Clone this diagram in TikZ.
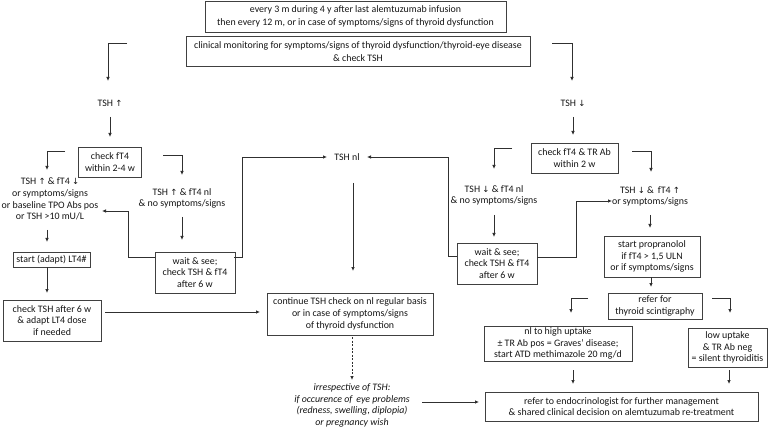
\documentclass[tikz,border=0pt]{standalone}
\usepackage{fontspec}
\setmainfont{Carlito}
\newfontfamily\symfont{DejaVu Sans}
\usetikzlibrary{arrows.meta,calc}
\newcommand\upar{{\symfont\fontsize{8.5}{9}\selectfont ↑}}
\newcommand\dnar{{\symfont\fontsize{8.5}{9}\selectfont ↓}}
\definecolor{ln}{HTML}{303030}
\definecolor{bx}{HTML}{404040}
\definecolor{tx}{HTML}{151515}
\begin{document}
\begin{tikzpicture}[x=1pt,y=-1pt,
  every node/.style={font=\fontsize{9.9}{11.8}\selectfont, text=tx, align=center, inner sep=0pt},
  box/.style={draw=bx, line width=0.8pt, fill=white},
  lbl/.style={},
  arr/.style={draw=ln, line width=0.8pt, -{Latex[length=4pt,width=3.6pt]}},
  dsh/.style={arr, dashed, dash pattern=on 2pt off 1.5pt}]
\useasboundingbox[fill=white] (0,0) rectangle (773,430);

% boxes
\node[box, minimum width=301pt, minimum height=31pt, font=\fontsize{9.9}{13}\selectfont] (top) at (355.5,16.5)
  {every 3 m during 4 y after last alemtuzumab infusion\\then every 12 m, or in case of symptoms/signs of thyroid dysfunction};
\node[box, minimum width=344pt, minimum height=30pt, font=\fontsize{9.9}{13}\selectfont] (clin) at (358,51.5)
  {clinical monitoring for symptoms/signs of thyroid dysfunction/thyroid-eye disease\\\& check TSH};
\node[box, minimum width=63pt, minimum height=30pt] (chk1) at (110,162) {check fT4\\within 2-4 w};
\node[box, minimum width=77pt, minimum height=15pt] (lt4) at (51.5,259.5) {start (adapt) LT4\#};
\node[box, minimum width=98pt, minimum height=41pt] (chk6) at (52,320.5) {check TSH after 6 w\\\& adapt LT4 dose\\if needed};
\node[box, minimum width=80pt, minimum height=41pt] (wsL) at (195,272.5) {wait \& see;\\check TSH \& fT4\\after 6 w};
\node[box, minimum width=166pt, minimum height=42pt] (cont) at (350,314) {continue TSH check on nl regular basis\\or in case of symptoms/signs\\of thyroid dysfunction};
\node[box, minimum width=87pt, minimum height=30pt] (chk2) at (574.5,158) {check fT4 \& TR Ab\\within 2 w};
\node[box, minimum width=80pt, minimum height=41pt] (wsR) at (497,263.5) {wait \& see;\\check TSH \& fT4\\after 6 w};
\node[box, minimum width=96pt, minimum height=41pt] (prop) at (652,256.5) {start propranolol\\if fT4 {>} 1,5 ULN\\or if symptoms/signs};
\node[box, minimum width=94pt, minimum height=26pt] (scint) at (655,306) {refer for\\thyroid scintigraphy};
\node[box, minimum width=148pt, minimum height=35pt] (graves) at (558,343.5) {nl to high uptake\\± TR Ab pos = Graves’ disease;\\start ATD methimazole 20 mg/d};
\node[box, minimum width=79pt, minimum height=39pt] (silent) at (727.5,347.5) {low uptake\\\& TR Ab neg\\= silent thyroiditis};
\node[box, minimum width=273pt, minimum height=29pt] (endo) at (621.5,406.5) {refer to endocrinologist for further management\\\& shared clinical decision on alemtuzumab re-treatment};

% labels
\node[lbl] (tshup) at (110,103) {TSH \upar};
\node[lbl] (tshdn) at (573,103) {TSH \dnar};
\node[lbl] (tshnl) at (347,157) {TSH nl};
\node[lbl] (lowl) at (50,199) {TSH \upar{} \& fT4 \dnar\\or symptoms/signs\\or baseline TPO Abs pos\\or TSH {>}10 mU/L};
\node[lbl] (nlL) at (182,198.5) {TSH \upar{} \& fT4 nl\\\& no symptoms/signs};
\node[lbl] (nlR) at (494,195.5) {TSH \dnar{} \& fT4 nl\\\& no symptoms/signs};
\node[lbl] (upR) at (650,196.5) {TSH \dnar{} \& \,fT4 \upar\\or symptoms/signs};
\node[lbl, font=\fontsize{9.9}{11.8}\selectfont\itshape] (ital) at (352,405.5) {irrespective of TSH:\\if occurence of \,eye problems\\(redness, swelling, diplopia)\\or pregnancy wish};

% connectors
\draw[arr] ($(clin)+(-231,-8.5)$) -| ($(tshup)+(-2,-22)$);
\draw[arr] ($(tshup)+(0,14)$) -- ($(chk1)+(0,-25)$);
\draw[arr] ($(chk1)+(-45,-11)$) -| ($(lowl)+(-3,-29)$);
\draw[arr] ($(chk1)+(53,-7)$) -| ($(nlL)+(0,-23.5)$);
\draw[arr] ($(lowl)+(-3,31)$) -- ($(lt4)+(-4.5,-17.5)$);
\draw[arr] ($(lt4)+(-4.5,7.5)$) -- ($(chk6)+(-5,-27.5)$);
\draw[arr] ($(chk6)+(53,-8.5)$) -- ($(cont)+(-90,-2)$);
\draw[arr] ($(nlL)+(0,18.5)$) -- ($(wsL)+(-13,-32.5)$);
\draw[arr] ($(wsL)+(-40,-15.5)$) -- ++(-27,0) |- ($(lowl)+(52,12)$);
\draw[arr] ($(wsL)+(39,-15.5)$) -- ++(8,0) |- ($(tshnl)+(-20,0)$);
\draw[arr] ($(wsR)+(-40,-7.5)$) -- ++(-9,0) |- ($(tshnl)+(20,0)$);
\draw[arr] ($(tshnl)+(6,26)$) -- ($(cont)+(3,-43)$);
\draw[dsh] ($(cont)+(2,23)$) -- ($(ital)+(0,-25.5)$);
\draw[arr] ($(ital)+(70,-3.5)$) -- ($(endo)+(-142.5,-4.5)$);
\draw[arr] ($(clin)+(194,-8.5)$) -| ($(tshdn)+(-1,-22)$);
\draw[arr] ($(tshdn)+(0,14)$) -- ($(chk2)+(-1.5,-23)$);
\draw[arr] ($(chk2)+(-62.5,-10)$) -| ($(nlR)+(0,-26.5)$);
\draw[arr] ($(chk2)+(57.5,-7)$) -| ($(upR)+(1,-24.5)$);
\draw[arr] ($(nlR)+(0,19.5)$) -- ($(wsR)+(-3,-26.5)$);
\draw[arr] ($(wsR)+(40,-6.5)$) -- ++(39,0) |- ($(upR)+(-38,4.5)$);
\draw[arr] ($(upR)+(0,18.5)$) -- ($(prop)+(-2,-28.5)$);
\draw[arr] ($(prop)+(-1,20.5)$) -- ($(scint)+(-4,-19)$);
\draw[arr] ($(scint)+(-67,-8)$) -| ($(graves)+(13,-30.5)$);
\draw[arr] ($(scint)+(57,-8)$) -| ($(silent)+(2.5,-34.5)$);
\draw[arr] ($(graves)+(15,26.5)$) -- ($(endo)+(-48.5,-22.5)$);
\draw[arr] ($(silent)+(1.5,22.5)$) -- ($(endo)+(107.5,-22.5)$);
\end{tikzpicture}
\end{document}
